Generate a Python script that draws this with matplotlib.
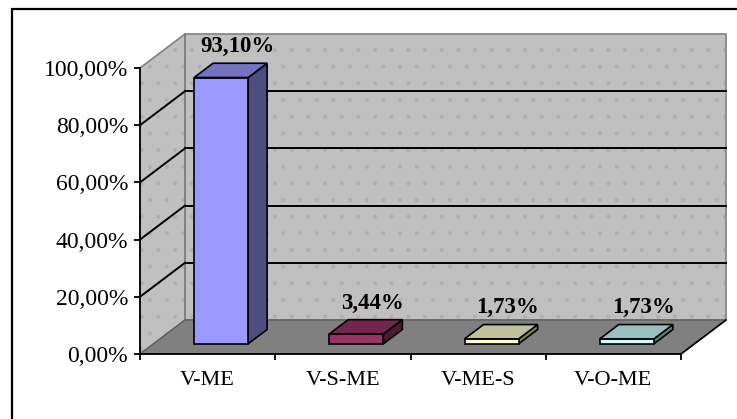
import matplotlib
matplotlib.use("Agg")
import matplotlib.pyplot as plt
from matplotlib.patches import Polygon, Rectangle
from matplotlib.ticker import FixedLocator, FuncFormatter, NullFormatter

# data
categories = ["V-ME", "V-S-ME", "V-ME-S", "V-O-ME"]
values = [93.10, 3.44, 1.73, 1.73]
y_ticks = [0, 20, 40, 60, 80, 100]
bar_colors = ["#9999FF", "#993366", "#FFFFCC", "#CCFFFF"]

# 3d look (Excel style): depth offset of the plot box, in data units
DX, DY = 0.333, 11.9
F0, F1 = 0.30, 0.72          # bar front / back depth fraction
BAR_W = 0.4

plt.rcParams["font.family"] = ["Liberation Serif", "DejaVu Serif"]
plt.rcParams["hatch.linewidth"] = 0.6


def pct(v, _=None):
    return f"{v:.2f}".replace(".", ",") + "%"


def proj(x, y, f):
    return (x + f * DX, y + f * DY)


def shade(color, k):
    r, g, b = matplotlib.colors.to_rgb(color)
    return (r * k, g * k, b * k)


fig = plt.figure(figsize=(7.37, 4.19), dpi=100)
fig.patch.set_facecolor("white")
ax = fig.add_axes([140 / 737, 65 / 419, 541 / 737, 286 / 419])
ax.set_xlim(0, len(categories))
ax.set_ylim(0, 100)
ax.set_facecolor("none")
n = len(categories)

# walls and floor
back = [proj(0, 0, 1), proj(n, 0, 1), proj(n, 100, 1), proj(0, 100, 1)]
left = [proj(0, 0, 0), proj(0, 0, 1), proj(0, 100, 1), proj(0, 100, 0)]
floor = [proj(0, 0, 0), proj(n, 0, 0), proj(n, 0, 1), proj(0, 0, 1)]
for poly in (back, left):
    ax.add_patch(Polygon(poly, closed=True, facecolor="#C0C0C0", edgecolor="#B0B0B0",
                         hatch=".", lw=0, clip_on=False, zorder=1))
    ax.add_patch(Polygon(poly, closed=True, fill=False, edgecolor="#808080",
                         lw=1.2, clip_on=False, zorder=2))
ax.add_patch(Polygon(floor, closed=True, facecolor="#808080", edgecolor="#606060",
                     lw=1, clip_on=False, zorder=2))
ax.plot(*zip(proj(n, 0, 0), proj(n, 0, 1)), color="black", lw=1.2,
        clip_on=False, zorder=3)

# gridlines on the back and left walls
for v in y_ticks[1:-1]:
    ax.plot(*zip(proj(0, v, 1), proj(n, v, 1)), color="black", lw=1.4,
            clip_on=False, zorder=3)
    ax.plot(*zip(proj(0, v, 0), proj(0, v, 1)), color="black", lw=1.4,
            clip_on=False, zorder=3)

# 3d columns
for i, (v, c) in enumerate(zip(values, bar_colors)):
    x0, x1 = i + 0.5 - BAR_W / 2, i + 0.5 + BAR_W / 2
    front = [proj(x0, 0, F0), proj(x1, 0, F0), proj(x1, v, F0), proj(x0, v, F0)]
    top = [proj(x0, v, F0), proj(x1, v, F0), proj(x1, v, F1), proj(x0, v, F1)]
    side = [proj(x1, 0, F0), proj(x1, 0, F1), proj(x1, v, F1), proj(x1, v, F0)]
    for poly, col in ((side, shade(c, 0.5)), (front, c), (top, shade(c, 0.75))):
        ax.add_patch(Polygon(poly, closed=True, facecolor=col, edgecolor="black",
                             lw=1.2, joinstyle="miter", clip_on=False, zorder=5))
    ax.annotate(pct(v), proj(i + 0.48, v, F1), xytext=(0, 8),
                textcoords="offset points", ha="center", va="baseline",
                fontsize=16.5, fontweight="bold", annotation_clip=False, zorder=6)

# axes, ticks
for s in ("top", "right"):
    ax.spines[s].set_visible(False)
for s in ("left", "bottom"):
    ax.spines[s].set_color("black")
    ax.spines[s].set_linewidth(1.3)
    ax.spines[s].set_zorder(4)
ax.yaxis.set_major_locator(FixedLocator(y_ticks))
ax.yaxis.set_major_formatter(FuncFormatter(pct))
ax.xaxis.set_major_locator(FixedLocator(range(n + 1)))
ax.xaxis.set_major_formatter(NullFormatter())
ax.xaxis.set_minor_locator(FixedLocator([i + 0.5 for i in range(n)]))
ax.xaxis.set_minor_formatter(FuncFormatter(lambda x, _: categories[int(x)]))
ax.tick_params(axis="both", which="major", direction="out", length=4.5, width=1.3,
               labelsize=17, pad=4)
ax.tick_params(axis="x", which="minor", length=0, labelsize=16, pad=12)

# chart-area border
fig.patches.append(Rectangle((12 / 737, -0.1), 1.0, (419 - 9) / 419 + 0.1,
                             transform=fig.transFigure, fill=False,
                             edgecolor="black", lw=1.6))

fig.savefig("out.png", dpi=100)
